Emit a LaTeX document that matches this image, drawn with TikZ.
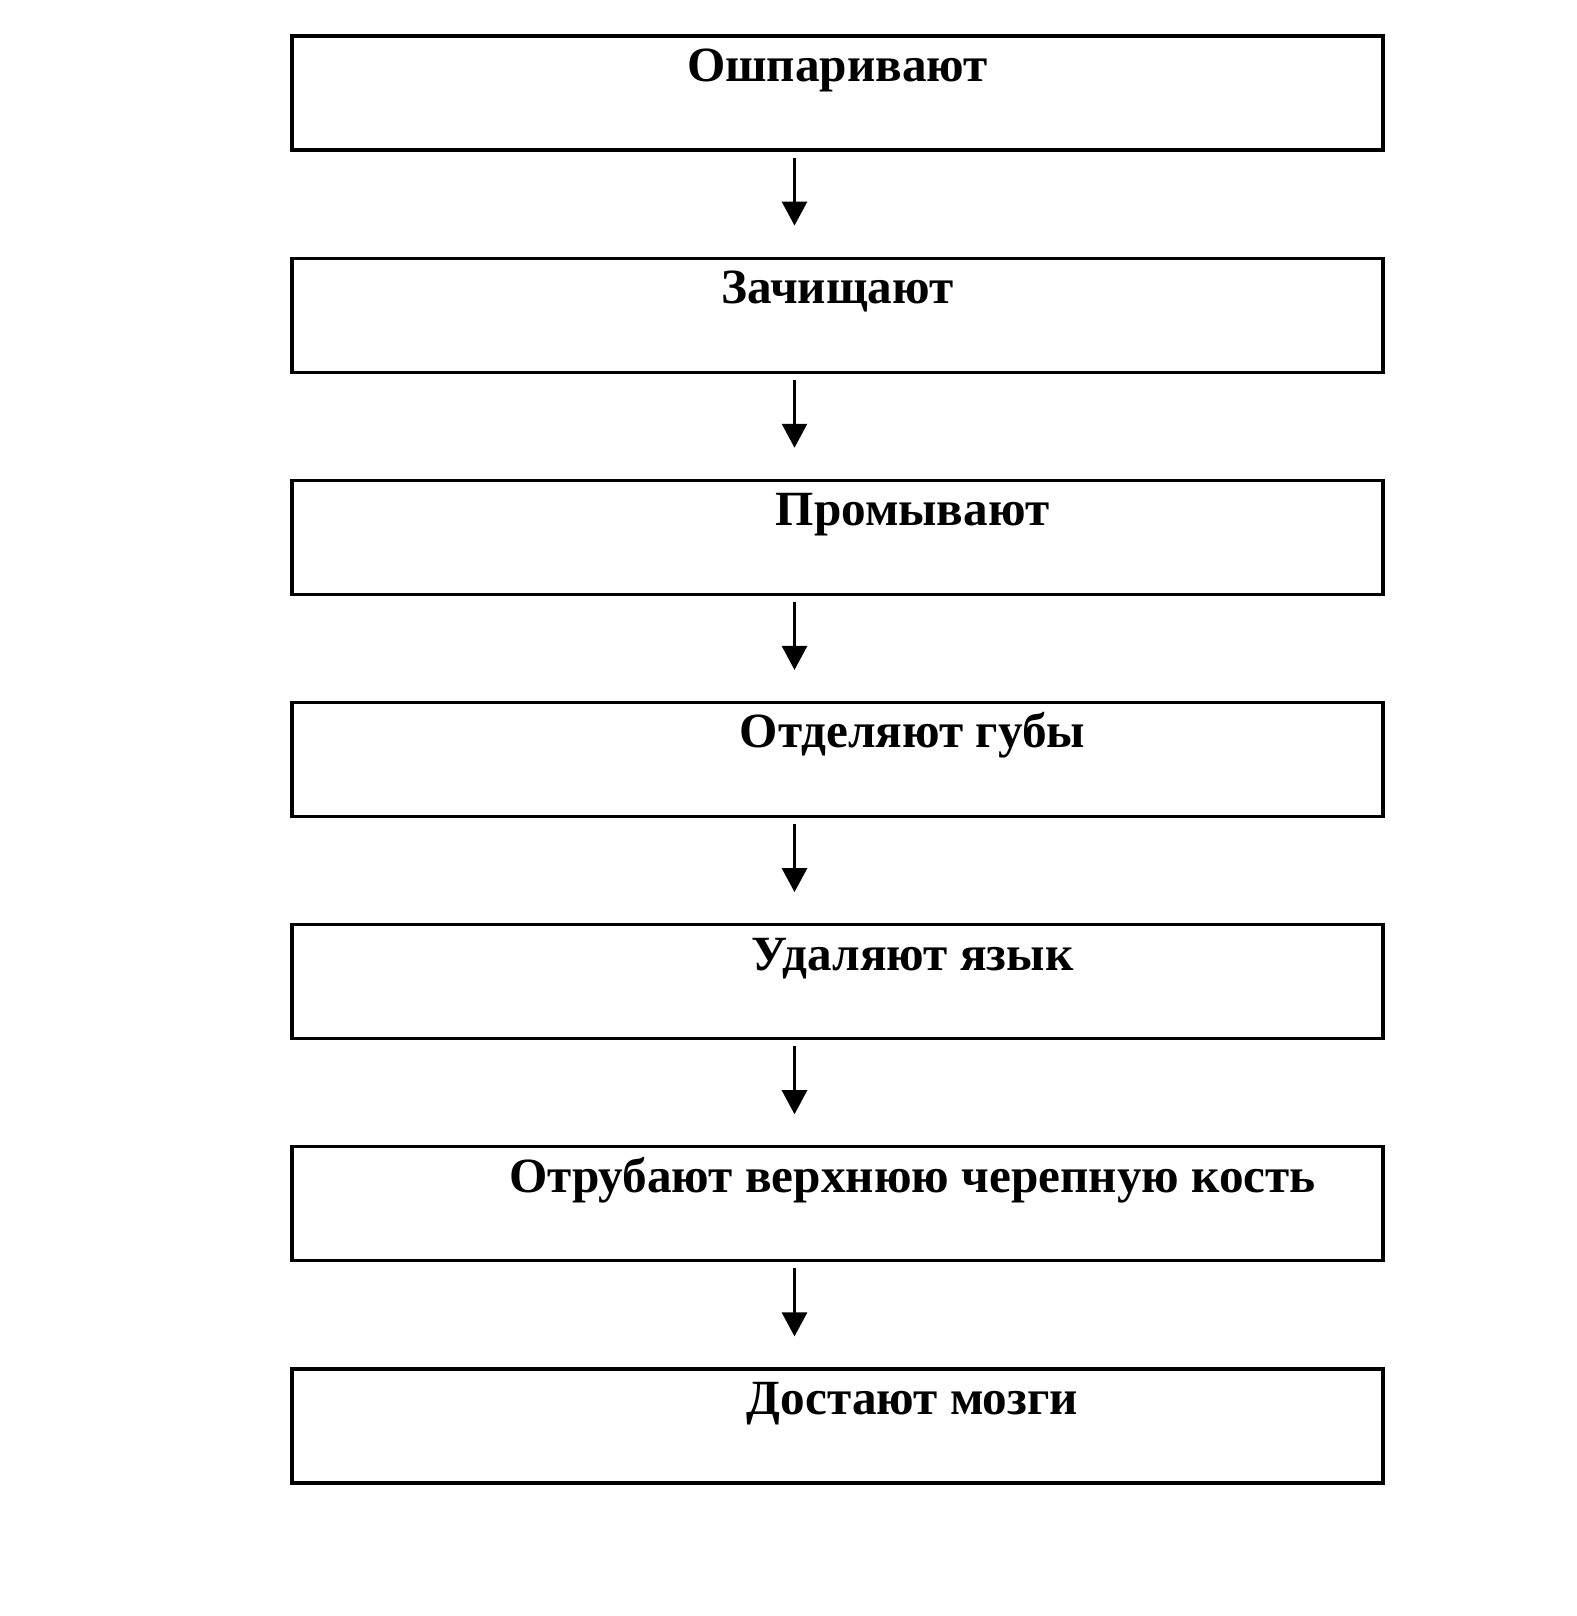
\documentclass[tikz,border=0pt]{standalone}
\usepackage{fontspec}
\setmainfont{Liberation Serif}
\usetikzlibrary{positioning,arrows.meta}
\begin{document}
\begin{tikzpicture}[
		stage/.style={draw, line width=0.9pt, minimum width=10.91cm, minimum height=1.14cm, inner sep=0pt},
		caption/.style={anchor=base, font=\bfseries\fontsize{14}{16}\selectfont, inner sep=0pt},
		flow/.style={line width=0.8pt, -{Triangle[length=2.4mm, width=2.5mm]}, shorten <=0.06cm, shorten >=0.31cm}
	]
		\useasboundingbox (0,0) rectangle (15.77,-16.16);
		
		\node[stage] (scald) at (8.375,-0.93) {};
		\node[stage, below=1.05cm of scald] (clean) {};
		\node[stage, below=1.05cm of clean] (wash) {};
		\node[stage, below=1.05cm of wash] (lips) {};
		\node[stage, below=1.05cm of lips] (tongue) {};
		\node[stage, below=1.05cm of tongue] (skull) {};
		\node[stage, below=1.05cm of skull] (brain) {};
		
		\node[caption] (tscald) at ([yshift=-0.47cm]scald.north) {Ошпаривают};
		\node[caption] (tclean) at ([yshift=-0.47cm]clean.north) {Зачищают};
		\node[caption] (twash) at ([xshift=0.75cm, yshift=-0.47cm]wash.north) {Промывают};
		\node[caption] (tlips) at ([xshift=0.75cm, yshift=-0.47cm]lips.north) {Отделяют губы};
		\node[caption] (ttongue) at ([xshift=0.75cm, yshift=-0.47cm]tongue.north) {Удаляют язык};
		\node[caption] (tskull) at ([xshift=0.75cm, yshift=-0.47cm]skull.north) {Отрубают верхнюю черепную кость};
		\node[caption] (tbrain) at ([xshift=0.75cm, yshift=-0.47cm]brain.north) {Достают мозги};
		
		\draw[flow] ([xshift=-0.43cm]scald.south) -- ([xshift=-0.43cm]clean.north);
		\draw[flow] ([xshift=-0.43cm]clean.south) -- ([xshift=-0.43cm]wash.north);
		\draw[flow] ([xshift=-0.43cm]wash.south) -- ([xshift=-0.43cm]lips.north);
		\draw[flow] ([xshift=-0.43cm]lips.south) -- ([xshift=-0.43cm]tongue.north);
		\draw[flow] ([xshift=-0.43cm]tongue.south) -- ([xshift=-0.43cm]skull.north);
		\draw[flow] ([xshift=-0.43cm]skull.south) -- ([xshift=-0.43cm]brain.north);
	\end{tikzpicture}
\end{document}
